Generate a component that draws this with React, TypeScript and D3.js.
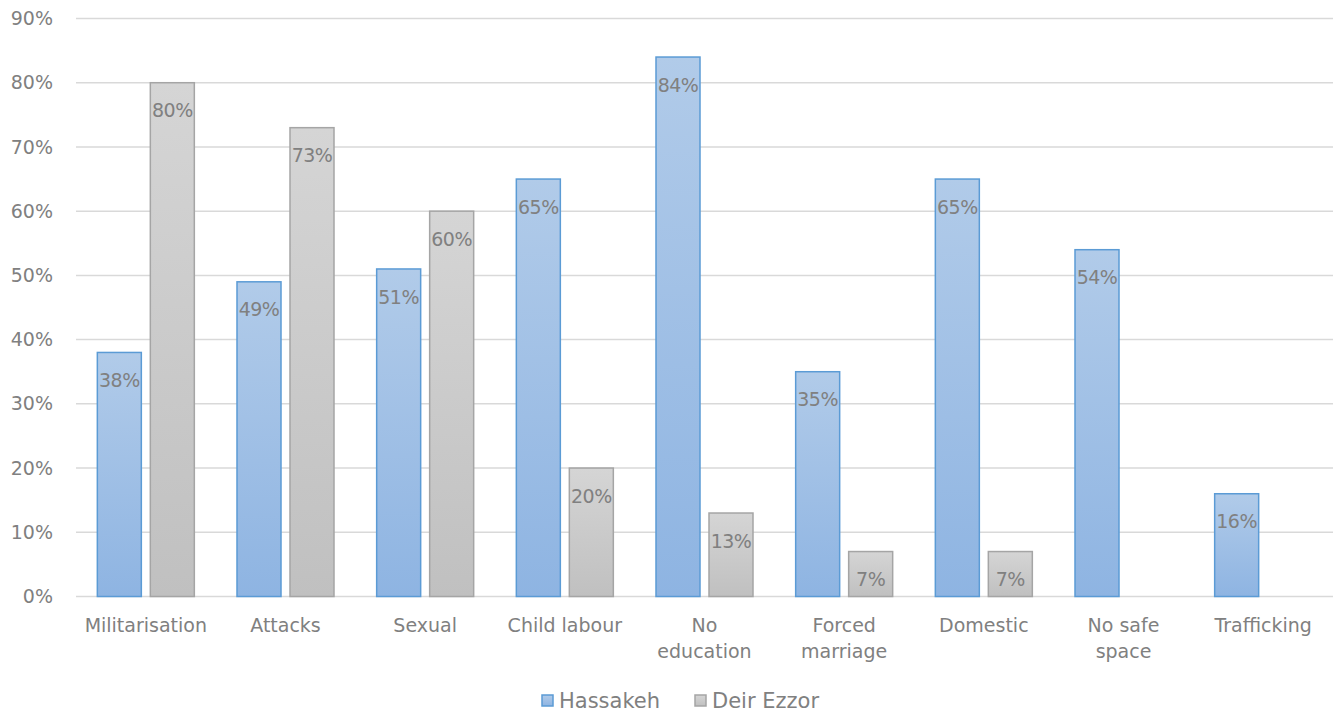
import React from "react";
import * as d3 from "d3";

const categories: string[][] = [
  ["Militarisation"],
  ["Attacks"],
  ["Sexual"],
  ["Child labour"],
  ["No", "education"],
  ["Forced", "marriage"],
  ["Domestic"],
  ["No safe", "space"],
  ["Trafficking"],
];
const hassakeh: (number | null)[] = [38, 49, 51, 65, 84, 35, 65, 54, 16];
const deirEzzor: (number | null)[] = [80, 73, 60, 20, 13, 7, 7, null, null];
const yTicks: number[] = [0, 10, 20, 30, 40, 50, 60, 70, 80, 90];
const seriesNames = ["Hassakeh", "Deir Ezzor"];

const W = 1337;
const H = 717;
const FONT = "'DejaVu Sans', sans-serif";

export default function App() {
  const left = 76;
  const right = 1333;
  const top = 18.5;
  const bottom = 596.5;
  const x = d3
    .scaleBand<number>()
    .domain(categories.map((_, i) => i))
    .range([left, right]);
  const y = d3.scaleLinear().domain([0, 90]).range([bottom, top]);
  const bw = x.bandwidth();
  const barW = 44;
  const gap = 9;
  const groupW = barW * 2 + gap;
  const series = [
    { name: seriesNames[0], values: hassakeh, fill: "url(#gBlue)", stroke: "#5b9bd5" },
    { name: seriesNames[1], values: deirEzzor, fill: "url(#gGrey)", stroke: "#a5a5a5" },
  ];
  const textColor = "#808080";

  return (
    <svg
      width={W}
      height={H}
      style={{ position: "absolute", left: 0, top: 0, background: "#fff" }}
      fontFamily={FONT}
    >
      <defs>
        <linearGradient id="gBlue" x1="0" y1="0" x2="0" y2="1">
          <stop offset="0" stopColor="#b1cbe9" />
          <stop offset="1" stopColor="#8eb4e2" />
        </linearGradient>
        <linearGradient id="gGrey" x1="0" y1="0" x2="0" y2="1">
          <stop offset="0" stopColor="#d5d5d5" />
          <stop offset="1" stopColor="#c0c0c0" />
        </linearGradient>
      </defs>
      {yTicks.map((t) => (
        <g key={t}>
          <line
            x1={left}
            x2={right}
            y1={y(t)}
            y2={y(t)}
            stroke="#d9d9d9"
            strokeWidth={1.5}
          />
          <text
            x={53}
            y={y(t)}
            dy="0.35em"
            textAnchor="end"
            fontSize={19}
            fill={textColor}
          >
            {t}%
          </text>
        </g>
      ))}
      {categories.map((cat, i) => {
        const gx = (x(i) as number) + (bw - groupW) / 2;
        return (
          <g key={i}>
            {series.map((s, si) => {
              const v = s.values[i];
              if (v == null) return null;
              const bx = gx + si * (barW + gap);
              return (
                <g key={si}>
                  <rect
                    x={bx}
                    y={y(v)}
                    width={barW}
                    height={y(0) - y(v)}
                    fill={s.fill}
                    stroke={s.stroke}
                    strokeWidth={1.5}
                  />
                  <text
                    x={bx + barW / 2}
                    y={y(v) + 28}
                    dy="0.35em"
                    textAnchor="middle"
                    fontSize={19}
                    fill={textColor}
                    letterSpacing={-0.5}
                  >
                    {v}%
                  </text>
                </g>
              );
            })}
            {cat.map((line, li) => (
              <text
                key={li}
                x={(x(i) as number) + bw / 2}
                y={625 + li * 26}
                dy="0.35em"
                textAnchor="middle"
                fontSize={19}
                fill={textColor}
              >
                {line}
              </text>
            ))}
          </g>
        );
      })}
      {series.map((s, si) => {
        const lx = si === 0 ? 542 : 695;
        return (
          <g key={si}>
            <rect
              x={lx}
              y={695}
              width={11}
              height={11}
              fill={s.fill}
              stroke={s.stroke}
              strokeWidth={1.5}
            />
            <text
              x={lx + 17}
              y={701}
              dy="0.35em"
              fontSize={21}
              fill={textColor}
            >
              {s.name}
            </text>
          </g>
        );
      })}
    </svg>
  );
}
